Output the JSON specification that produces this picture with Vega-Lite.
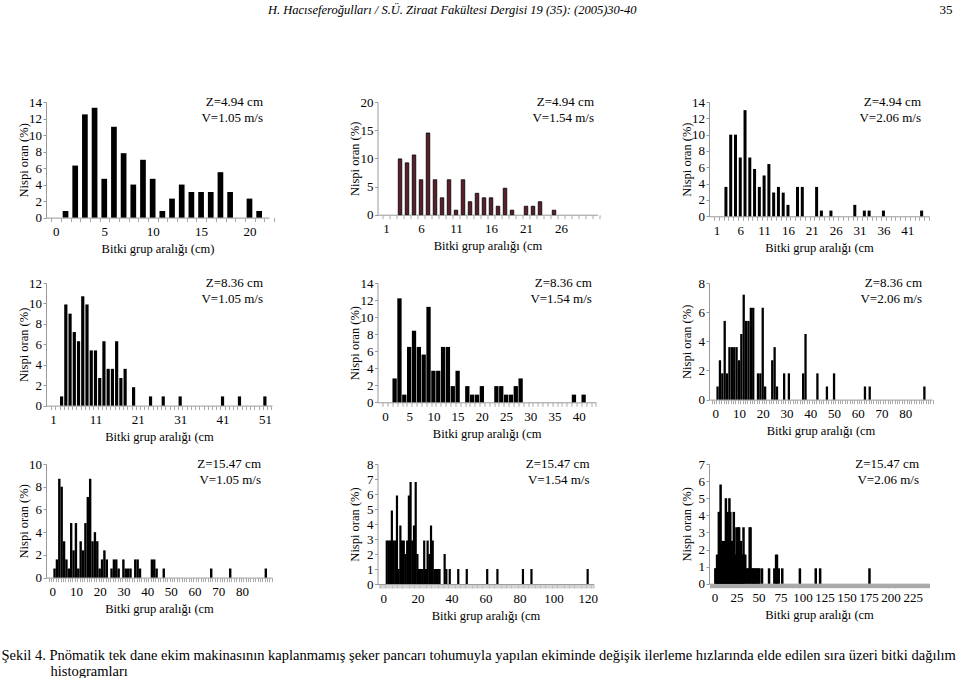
{
  "$schema": "https://vega.github.io/schema/vega-lite/v6.json",
  "padding": {"left": 1, "top": 3, "right": 0, "bottom": 0},
  "background": "white",
  "columns": 3,
  "spacing": {"row": 58, "column": 105.5},
  "bounds": "flush",
  "align": "all",
  "datasets": {
    "p1": [{"x":1,"v":0.8},{"x":2,"v":6.3},{"x":3,"v":12.5},{"x":4,"v":13.3},{"x":5,"v":4.7},{"x":6,"v":11.0},{"x":7,"v":7.8},{"x":8,"v":4.0},{"x":9,"v":7.0},{"x":10,"v":4.7},{"x":11,"v":0.8},{"x":12,"v":2.3},{"x":13,"v":4.0},{"x":14,"v":3.1},{"x":15,"v":3.1},{"x":16,"v":3.1},{"x":17,"v":5.5},{"x":18,"v":3.1},{"x":20,"v":2.3},{"x":21,"v":0.8}],
    "p2": [{"x":3,"v":9.9},{"x":4,"v":9.2},{"x":5,"v":10.6},{"x":6,"v":6.2},{"x":7,"v":14.5},{"x":8,"v":6.2},{"x":9,"v":3.0},{"x":10,"v":6.2},{"x":11,"v":0.8},{"x":12,"v":6.2},{"x":13,"v":2.3},{"x":14,"v":3.8},{"x":15,"v":3.0},{"x":16,"v":3.0},{"x":17,"v":1.5},{"x":18,"v":4.7},{"x":19,"v":0.8},{"x":21,"v":1.5},{"x":22,"v":1.5},{"x":23,"v":2.3},{"x":25,"v":0.8}],
    "p3": [{"x":3,"v":3.6},{"x":4,"v":10.0},{"x":5,"v":10.0},{"x":6,"v":7.2},{"x":7,"v":13.0},{"x":8,"v":7.2},{"x":9,"v":5.8},{"x":10,"v":3.6},{"x":11,"v":5.0},{"x":12,"v":6.4},{"x":13,"v":2.9},{"x":14,"v":3.6},{"x":15,"v":2.9},{"x":16,"v":1.4},{"x":18,"v":3.6},{"x":19,"v":3.6},{"x":22,"v":3.6},{"x":23,"v":0.7},{"x":25,"v":0.7},{"x":30,"v":1.4},{"x":32,"v":0.7},{"x":33,"v":0.7},{"x":36,"v":0.7},{"x":44,"v":0.7}],
    "p4": [{"x":3,"v":0.9},{"x":4,"v":9.9},{"x":5,"v":9.0},{"x":6,"v":7.2},{"x":7,"v":6.3},{"x":8,"v":10.7},{"x":9,"v":9.9},{"x":10,"v":5.4},{"x":11,"v":5.4},{"x":12,"v":2.7},{"x":13,"v":6.3},{"x":14,"v":3.6},{"x":15,"v":3.6},{"x":16,"v":6.3},{"x":17,"v":2.7},{"x":18,"v":3.6},{"x":20,"v":1.8},{"x":24,"v":0.9},{"x":27,"v":0.9},{"x":31,"v":0.9},{"x":41,"v":0.9},{"x":45,"v":0.9},{"x":51,"v":0.9}],
    "p5": [{"x":2,"v":2.8},{"x":3,"v":12.2},{"x":4,"v":0.9},{"x":5,"v":6.5},{"x":6,"v":8.4},{"x":7,"v":6.5},{"x":8,"v":5.6},{"x":9,"v":11.2},{"x":10,"v":3.7},{"x":11,"v":3.7},{"x":12,"v":6.5},{"x":13,"v":6.5},{"x":14,"v":1.9},{"x":15,"v":3.7},{"x":17,"v":1.9},{"x":18,"v":0.9},{"x":19,"v":0.9},{"x":20,"v":1.9},{"x":23,"v":1.9},{"x":24,"v":1.9},{"x":25,"v":0.9},{"x":26,"v":0.9},{"x":27,"v":1.9},{"x":28,"v":2.8},{"x":39,"v":0.9},{"x":41,"v":0.9}],
    "p6": [{"x":1,"v":0.9},{"x":2,"v":2.7},{"x":3,"v":1.8},{"x":4,"v":5.4},{"x":5,"v":1.8},{"x":6,"v":3.6},{"x":7,"v":3.6},{"x":8,"v":3.6},{"x":9,"v":3.6},{"x":10,"v":2.7},{"x":11,"v":4.5},{"x":12,"v":7.2},{"x":13,"v":5.4},{"x":14,"v":5.4},{"x":15,"v":6.3},{"x":16,"v":6.3},{"x":18,"v":1.8},{"x":19,"v":1.8},{"x":20,"v":6.3},{"x":21,"v":0.9},{"x":24,"v":2.7},{"x":25,"v":3.6},{"x":26,"v":0.9},{"x":29,"v":1.8},{"x":31,"v":1.8},{"x":37,"v":1.8},{"x":38,"v":4.5},{"x":43,"v":1.8},{"x":47,"v":0.9},{"x":50,"v":1.8},{"x":63,"v":0.9},{"x":65,"v":0.9},{"x":88,"v":0.9}],
    "p7": [{"x":1,"v":0.8},{"x":2,"v":1.6},{"x":3,"v":8.7},{"x":4,"v":8.0},{"x":5,"v":3.2},{"x":6,"v":1.6},{"x":7,"v":0.8},{"x":8,"v":4.8},{"x":9,"v":2.4},{"x":10,"v":4.8},{"x":11,"v":0.8},{"x":12,"v":3.2},{"x":13,"v":2.4},{"x":14,"v":4.8},{"x":15,"v":7.1},{"x":16,"v":8.7},{"x":17,"v":3.2},{"x":18,"v":4.0},{"x":19,"v":3.2},{"x":20,"v":0.8},{"x":21,"v":1.6},{"x":22,"v":2.4},{"x":23,"v":1.6},{"x":25,"v":0.8},{"x":26,"v":1.6},{"x":27,"v":1.6},{"x":28,"v":0.8},{"x":30,"v":1.6},{"x":31,"v":0.8},{"x":32,"v":0.8},{"x":33,"v":0.8},{"x":35,"v":1.6},{"x":36,"v":1.6},{"x":37,"v":0.8},{"x":42,"v":1.6},{"x":43,"v":1.6},{"x":44,"v":0.8},{"x":47,"v":0.8},{"x":67,"v":0.8},{"x":75,"v":0.8},{"x":90,"v":0.8}],
    "p8": [{"x":2,"v":2.9},{"x":3,"v":2.9},{"x":4,"v":2.9},{"x":5,"v":4.9},{"x":6,"v":2.9},{"x":7,"v":2.9},{"x":8,"v":5.9},{"x":9,"v":1.0},{"x":10,"v":3.9},{"x":11,"v":2.9},{"x":12,"v":2.9},{"x":13,"v":2.0},{"x":14,"v":2.9},{"x":15,"v":5.9},{"x":16,"v":6.8},{"x":17,"v":2.9},{"x":18,"v":3.9},{"x":19,"v":6.8},{"x":20,"v":2.0},{"x":21,"v":1.0},{"x":22,"v":1.0},{"x":23,"v":1.0},{"x":24,"v":2.9},{"x":25,"v":1.0},{"x":26,"v":2.9},{"x":27,"v":2.0},{"x":28,"v":3.9},{"x":29,"v":2.9},{"x":30,"v":1.0},{"x":31,"v":1.0},{"x":32,"v":1.0},{"x":33,"v":1.0},{"x":36,"v":2.0},{"x":37,"v":1.0},{"x":39,"v":1.0},{"x":44,"v":1.0},{"x":49,"v":1.0},{"x":61,"v":1.0},{"x":67,"v":1.0},{"x":82,"v":1.0},{"x":87,"v":1.0},{"x":120,"v":1.0}],
    "p9": [{"x":1,"v":0.9},{"x":2,"v":0.9},{"x":3,"v":1.7},{"x":4,"v":1.7},{"x":5,"v":4.2},{"x":6,"v":4.2},{"x":7,"v":5.8},{"x":8,"v":2.5},{"x":9,"v":2.5},{"x":10,"v":2.5},{"x":11,"v":2.5},{"x":12,"v":2.5},{"x":13,"v":5.0},{"x":14,"v":2.5},{"x":15,"v":4.2},{"x":16,"v":2.5},{"x":17,"v":5.0},{"x":18,"v":4.2},{"x":19,"v":2.5},{"x":20,"v":2.5},{"x":21,"v":2.5},{"x":22,"v":4.2},{"x":23,"v":1.7},{"x":24,"v":1.7},{"x":25,"v":3.3},{"x":26,"v":1.7},{"x":27,"v":3.3},{"x":28,"v":3.3},{"x":29,"v":2.5},{"x":30,"v":2.5},{"x":31,"v":1.7},{"x":32,"v":1.7},{"x":33,"v":3.3},{"x":34,"v":1.7},{"x":35,"v":1.7},{"x":37,"v":0.9},{"x":38,"v":0.9},{"x":40,"v":3.3},{"x":41,"v":3.3},{"x":43,"v":0.9},{"x":44,"v":0.9},{"x":45,"v":0.9},{"x":47,"v":0.9},{"x":48,"v":0.9},{"x":50,"v":0.9},{"x":51,"v":0.9},{"x":54,"v":0.9},{"x":62,"v":0.9},{"x":68,"v":0.9},{"x":70,"v":1.7},{"x":71,"v":1.7},{"x":73,"v":0.9},{"x":77,"v":0.9},{"x":97,"v":0.9},{"x":115,"v":0.9},{"x":120,"v":0.9},{"x":176,"v":0.9}]
  },
  "concat": [
    {
      "width": 223, "height": 115.6,
      "title": {"text": "H. Hacıseferoğulları / S.Ü. Ziraat Fakültesi Dergisi 19 (35): (2005)30-40", "anchor": "start", "frame": "group", "dx": 222, "offset": 79, "fontStyle": "italic", "fontSize": 12.5},
      "layer": [
        {"data": {"name": "p1"}, "mark": {"type": "bar", "orient": "vertical", "size": 5.7, "color": "#000"},
         "encoding": {
           "x": {"field": "x", "type": "quantitative", "scale": {"domain": [-0.5, 21.5], "nice": false, "zero": false}, "axis": {"values": [0,5,10,15,20], "title": "Bitki grup aralığı  (cm)"}},
           "y": {"field": "v", "type": "quantitative", "stack": null, "scale": {"domain": [0, 14], "nice": false}, "axis": {"values": [0,2,4,6,8,10,12,14], "labelOverlap": false, "title": "Nispi oran (%)"}}}},
        {"data": {"values": [{"t": "Z=4.94 cm\nV=1.05 m/s"}]}, "mark": {"type": "text", "align": "right", "baseline": "alphabetic", "lineBreak": "\n", "lineHeight": 16.5, "fontSize": 13, "font": "Liberation Serif", "color": "#000", "dy": 3.5, "dx": -1},
         "encoding": {
           "x": {"datum": 21.5, "type": "quantitative", "axis": {"orient": "bottom", "labels": false, "domain": false, "title": null, "ticks": true, "tickSize": 4, "tickCount": 22, "tickOffset": 5.07}},
           "y": {"datum": 1, "type": "quantitative", "scale": {"domain": [0, 1]}, "axis": null},
           "text": {"field": "t"}}}
      ],
      "resolve": {"axis": {"x": "independent"}, "scale": {"y": "independent"}}
    },
    {
      "width": 220, "height": 112.7,
      "layer": [
        {"data": {"name": "p2"}, "mark": {"type": "bar", "orient": "vertical", "size": 3.5, "fill": "#5a1f2a", "stroke": "#000", "strokeWidth": 0.8},
         "encoding": {
           "x": {"field": "x", "type": "quantitative", "scale": {"domain": [0.5, 30.5], "nice": false, "zero": false}, "axis": {"values": [1,6,11,16,21,26], "title": "Bitki grup aralığı  (cm"}},
           "y": {"field": "v", "type": "quantitative", "stack": null, "scale": {"domain": [0, 20], "nice": false}, "axis": {"values": [0,5,10,15,20], "labelOverlap": false, "title": "Nispi oran (%)"}}}},
        {"data": {"values": [{"t": "Z=4.94 cm\nV=1.54 m/s"}]}, "mark": {"type": "text", "align": "right", "baseline": "alphabetic", "lineBreak": "\n", "lineHeight": 16.5, "fontSize": 13, "font": "Liberation Serif", "color": "#000", "dy": 3.5, "dx": 1.5},
         "encoding": {
           "x": {"datum": 30.5, "type": "quantitative", "axis": {"orient": "bottom", "labels": false, "domain": false, "title": null, "ticks": true, "tickSize": 4, "tickCount": 30, "tickOffset": 3.67}},
           "y": {"datum": 1, "type": "quantitative", "scale": {"domain": [0, 1]}, "axis": null},
           "text": {"field": "t"}}}
      ],
      "resolve": {"axis": {"x": "independent"}, "scale": {"y": "independent"}}
    },
    {
      "width": 220, "height": 114.3,
      "title": {"text": "35", "anchor": "end", "frame": "group", "dx": 23.5, "offset": 79, "fontSize": 13},
      "layer": [
        {"data": {"name": "p3"}, "mark": {"type": "bar", "orient": "vertical", "size": 3.0, "color": "#000"},
         "encoding": {
           "x": {"field": "x", "type": "quantitative", "scale": {"domain": [0.5, 44.5], "nice": false, "zero": false}, "axis": {"values": [1,6,11,16,21,26,31,36,41], "title": "Bitki grup aralığı  (cm"}},
           "y": {"field": "v", "type": "quantitative", "stack": null, "scale": {"domain": [0, 14], "nice": false}, "axis": {"values": [0,2,4,6,8,10,12,14], "labelOverlap": false, "title": "Nispi oran (%)"}}}},
        {"data": {"values": [{"t": "Z=4.94 cm\nV=2.06 m/s"}]}, "mark": {"type": "text", "align": "right", "baseline": "alphabetic", "lineBreak": "\n", "lineHeight": 16.5, "fontSize": 13, "font": "Liberation Serif", "color": "#000", "dy": 3.5, "dx": -3},
         "encoding": {
           "x": {"datum": 44.5, "type": "quantitative", "axis": {"orient": "bottom", "labels": false, "domain": false, "title": null, "ticks": true, "tickSize": 4, "tickCount": 44, "tickOffset": 2.5}},
           "y": {"datum": 1, "type": "quantitative", "scale": {"domain": [0, 1]}, "axis": null},
           "text": {"field": "t"}}}
      ],
      "resolve": {"axis": {"x": "independent"}, "scale": {"y": "independent"}}
    },
    {
      "width": 226, "height": 122.6,
      "layer": [
        {"data": {"name": "p4"}, "mark": {"type": "bar", "orient": "vertical", "size": 3.2, "color": "#000"},
         "encoding": {
           "x": {"field": "x", "type": "quantitative", "scale": {"domain": [0.5, 51.5], "nice": false, "zero": false}, "axis": {"values": [1,11,21,31,41,51], "title": "Bitki grup aralığı  (cm"}},
           "y": {"field": "v", "type": "quantitative", "stack": null, "scale": {"domain": [0, 12], "nice": false}, "axis": {"values": [0,2,4,6,8,10,12], "labelOverlap": false, "title": "Nispi oran (%)"}}}},
        {"data": {"values": [{"t": "Z=8.36 cm\nV=1.05 m/s"}]}, "mark": {"type": "text", "align": "right", "baseline": "alphabetic", "lineBreak": "\n", "lineHeight": 16.5, "fontSize": 13, "font": "Liberation Serif", "color": "#000", "dy": 3.5, "dx": -4},
         "encoding": {
           "x": {"datum": 51.5, "type": "quantitative", "axis": {"orient": "bottom", "labels": false, "domain": false, "title": null, "ticks": true, "tickSize": 4, "tickCount": 51, "tickOffset": 2.2}},
           "y": {"datum": 1, "type": "quantitative", "scale": {"domain": [0, 1]}, "axis": null},
           "text": {"field": "t"}}}
      ],
      "resolve": {"axis": {"x": "independent"}, "scale": {"y": "independent"}}
    },
    {
      "width": 218.4, "height": 119.3,
      "layer": [
        {"data": {"name": "p5"}, "mark": {"type": "bar", "orient": "vertical", "size": 4.3, "color": "#000"},
         "encoding": {
           "x": {"field": "x", "type": "quantitative", "scale": {"domain": [-0.5, 42.5], "nice": false, "zero": false}, "axis": {"values": [0,5,10,15,20,25,30,35,40], "title": "Bitki grup aralığı  (cm"}},
           "y": {"field": "v", "type": "quantitative", "stack": null, "scale": {"domain": [0, 14], "nice": false}, "axis": {"values": [0,2,4,6,8,10,12,14], "labelOverlap": false, "title": "Nispi oran (%)"}}}},
        {"data": {"values": [{"t": "Z=8.36 cm\nV=1.54 m/s"}]}, "mark": {"type": "text", "align": "right", "baseline": "alphabetic", "lineBreak": "\n", "lineHeight": 16.5, "fontSize": 13, "font": "Liberation Serif", "color": "#000", "dy": 3.5, "dx": 1},
         "encoding": {
           "x": {"datum": 42.5, "type": "quantitative", "axis": {"orient": "bottom", "labels": false, "domain": false, "title": null, "ticks": true, "tickSize": 4, "tickCount": 43, "tickOffset": 2.54}},
           "y": {"datum": 1, "type": "quantitative", "scale": {"domain": [0, 1]}, "axis": null},
           "text": {"field": "t"}}}
      ],
      "resolve": {"axis": {"x": "independent"}, "scale": {"y": "independent"}}
    },
    {
      "width": 223, "height": 116.6,
      "layer": [
        {"data": {"name": "p6"}, "mark": {"type": "bar", "orient": "vertical", "size": 2.3, "color": "#000"},
         "encoding": {
           "x": {"field": "x", "type": "quantitative", "scale": {"domain": [-0.5, 89.1], "nice": false, "zero": false}, "axis": {"values": [0,10,20,30,40,50,60,70,80], "title": "Bitki grup aralığı  (cm"}},
           "y": {"field": "v", "type": "quantitative", "stack": null, "scale": {"domain": [0, 8], "nice": false}, "axis": {"values": [0,2,4,6,8], "labelOverlap": false, "title": "Nispi oran (%)"}}}},
        {"data": {"values": [{"t": "Z=8.36 cm\nV=2.06 m/s"}]}, "mark": {"type": "text", "align": "right", "baseline": "alphabetic", "lineBreak": "\n", "lineHeight": 16.5, "fontSize": 13, "font": "Liberation Serif", "color": "#000", "dy": 3.5, "dx": -5},
         "encoding": {
           "x": {"datum": 89.1, "type": "quantitative", "axis": {"orient": "bottom", "labels": false, "domain": false, "title": null, "ticks": true, "tickSize": 4, "tickCount": 90, "tickOffset": 1.25}},
           "y": {"datum": 1, "type": "quantitative", "scale": {"domain": [0, 1]}, "axis": null},
           "text": {"field": "t"}}}
      ],
      "resolve": {"axis": {"x": "independent"}, "scale": {"y": "independent"}}
    },
    {
      "width": 226, "height": 113.6,
      "title": {"text": "Şekil 4. Pnömatik tek dane ekim makinasının kaplanmamış şeker pancarı tohumuyla yapılan ekiminde değişik ilerleme hızlarında elde edilen sıra üzeri bitki dağılım", "orient": "bottom", "anchor": "start", "frame": "group", "dx": -44.5, "offset": 33.5, "fontSize": 14.5},
      "layer": [
        {"data": {"name": "p7"}, "mark": {"type": "bar", "orient": "vertical", "size": 2.4, "color": "#000"},
         "encoding": {
           "x": {"field": "x", "type": "quantitative", "scale": {"domain": [-0.5, 90.5], "nice": false, "zero": false}, "axis": {"values": [0,10,20,30,40,50,60,70,80], "title": "Bitki grup aralığı  (cm"}},
           "y": {"field": "v", "type": "quantitative", "stack": null, "scale": {"domain": [0, 10], "nice": false}, "axis": {"values": [0,2,4,6,8,10], "labelOverlap": false, "title": "Nispi oran (%)"}}}},
        {"data": {"values": [{"t": "Z=15.47 cm\nV=1.05 m/s"}]}, "mark": {"type": "text", "align": "right", "baseline": "alphabetic", "lineBreak": "\n", "lineHeight": 16.5, "fontSize": 13, "font": "Liberation Serif", "color": "#000", "dy": 3.5, "dx": -6},
         "encoding": {
           "x": {"datum": 90.5, "type": "quantitative", "axis": {"orient": "bottom", "labels": false, "domain": false, "title": null, "ticks": true, "tickSize": 4, "tickCount": 91, "tickOffset": 1.24}},
           "y": {"datum": 1, "type": "quantitative", "scale": {"domain": [0, 1]}, "axis": null},
           "text": {"field": "t"}}}
      ],
      "resolve": {"axis": {"x": "independent"}, "scale": {"y": "independent"}}
    },
    {
      "width": 216, "height": 120,
      "title": {"text": "histogramları", "orient": "bottom", "anchor": "start", "frame": "group", "dx": -327, "offset": 43, "fontSize": 14.5},
      "layer": [
        {"data": {"name": "p8"}, "mark": {"type": "bar", "orient": "vertical", "size": 2.2, "color": "#000"},
         "encoding": {
           "x": {"field": "x", "type": "quantitative", "scale": {"domain": [-0.5, 120.5], "nice": false, "zero": false}, "axis": {"values": [0,20,40,60,80,100,120], "title": "Bitki grup aralığı  (cm"}},
           "y": {"field": "v", "type": "quantitative", "stack": null, "scale": {"domain": [0, 8], "nice": false}, "axis": {"values": [0,1,2,3,4,5,6,7,8], "labelOverlap": false, "title": "Nispi oran (%)"}}}},
        {"data": {"values": [{"t": "Z=15.47 cm\nV=1.54 m/s"}]}, "mark": {"type": "text", "align": "right", "baseline": "alphabetic", "lineBreak": "\n", "lineHeight": 16.5, "fontSize": 13, "font": "Liberation Serif", "color": "#000", "dy": 3.5, "dx": 1},
         "encoding": {
           "x": {"datum": 120.5, "type": "quantitative", "axis": {"orient": "bottom", "labels": false, "domain": false, "title": null, "ticks": true, "tickSize": 4, "tickCount": 121, "tickOffset": 0.89}},
           "y": {"datum": 1, "type": "quantitative", "scale": {"domain": [0, 1]}, "axis": null},
           "text": {"field": "t"}}}
      ],
      "resolve": {"axis": {"x": "independent"}, "scale": {"y": "independent"}}
    },
    {
      "width": 220, "height": 119.7,
      "layer": [
        {"data": {"name": "p9"}, "mark": {"type": "bar", "orient": "vertical", "size": 2.5, "color": "#000"},
         "encoding": {
           "x": {"field": "x", "type": "quantitative", "scale": {"domain": [-0.5, 237.9], "nice": false, "zero": false}, "axis": {"values": [0,25,50,75,100,125,150,175,200,225], "title": "Bitki grup aralığı  (cm"}},
           "y": {"field": "v", "type": "quantitative", "stack": null, "scale": {"domain": [0, 7], "nice": false}, "axis": {"values": [0,1,2,3,4,5,6,7], "labelOverlap": false, "title": "Nispi oran (%)"}}}},
        {"data": {"values": [{"t": "Z=15.47 cm\nV=2.06 m/s"}]}, "mark": {"type": "text", "align": "right", "baseline": "alphabetic", "lineBreak": "\n", "lineHeight": 16.5, "fontSize": 13, "font": "Liberation Serif", "color": "#000", "dy": 3.5, "dx": -5},
         "encoding": {
           "x": {"datum": 237.9, "type": "quantitative", "axis": {"orient": "bottom", "labels": false, "domain": false, "title": null, "ticks": true, "tickSize": 4, "tickCount": 238, "tickOffset": 0.46}},
           "y": {"datum": 1, "type": "quantitative", "scale": {"domain": [0, 1]}, "axis": null},
           "text": {"field": "t"}}}
      ],
      "resolve": {"axis": {"x": "independent"}, "scale": {"y": "independent"}}
    }
  ],
  "config": {
    "view": {"stroke": null},
    "font": "Liberation Serif",
    "title": {"font": "Liberation Serif", "fontWeight": "normal", "color": "#000", "limit": 2000},
    "axis": {"labelFont": "Liberation Serif", "labelFontSize": 13, "labelColor": "#000", "titleFont": "Liberation Serif", "titleFontSize": 12.5, "titleFontWeight": "normal", "titleColor": "#000", "domainColor": "#999", "tickColor": "#aaa", "grid": false},
    "axisX": {"ticks": false, "tickSize": 0, "labelPadding": 8, "titleY": 31, "titleBaseline": "middle", "labelFlush": false, "labelOverlap": false, "labelBound": false},
    "axisY": {"titleX": -23, "titleBaseline": "middle", "tickSize": 3, "tickColor": "#999", "labelPadding": 1.5, "labelFlush": false, "labelOverlap": false}
  }
}
